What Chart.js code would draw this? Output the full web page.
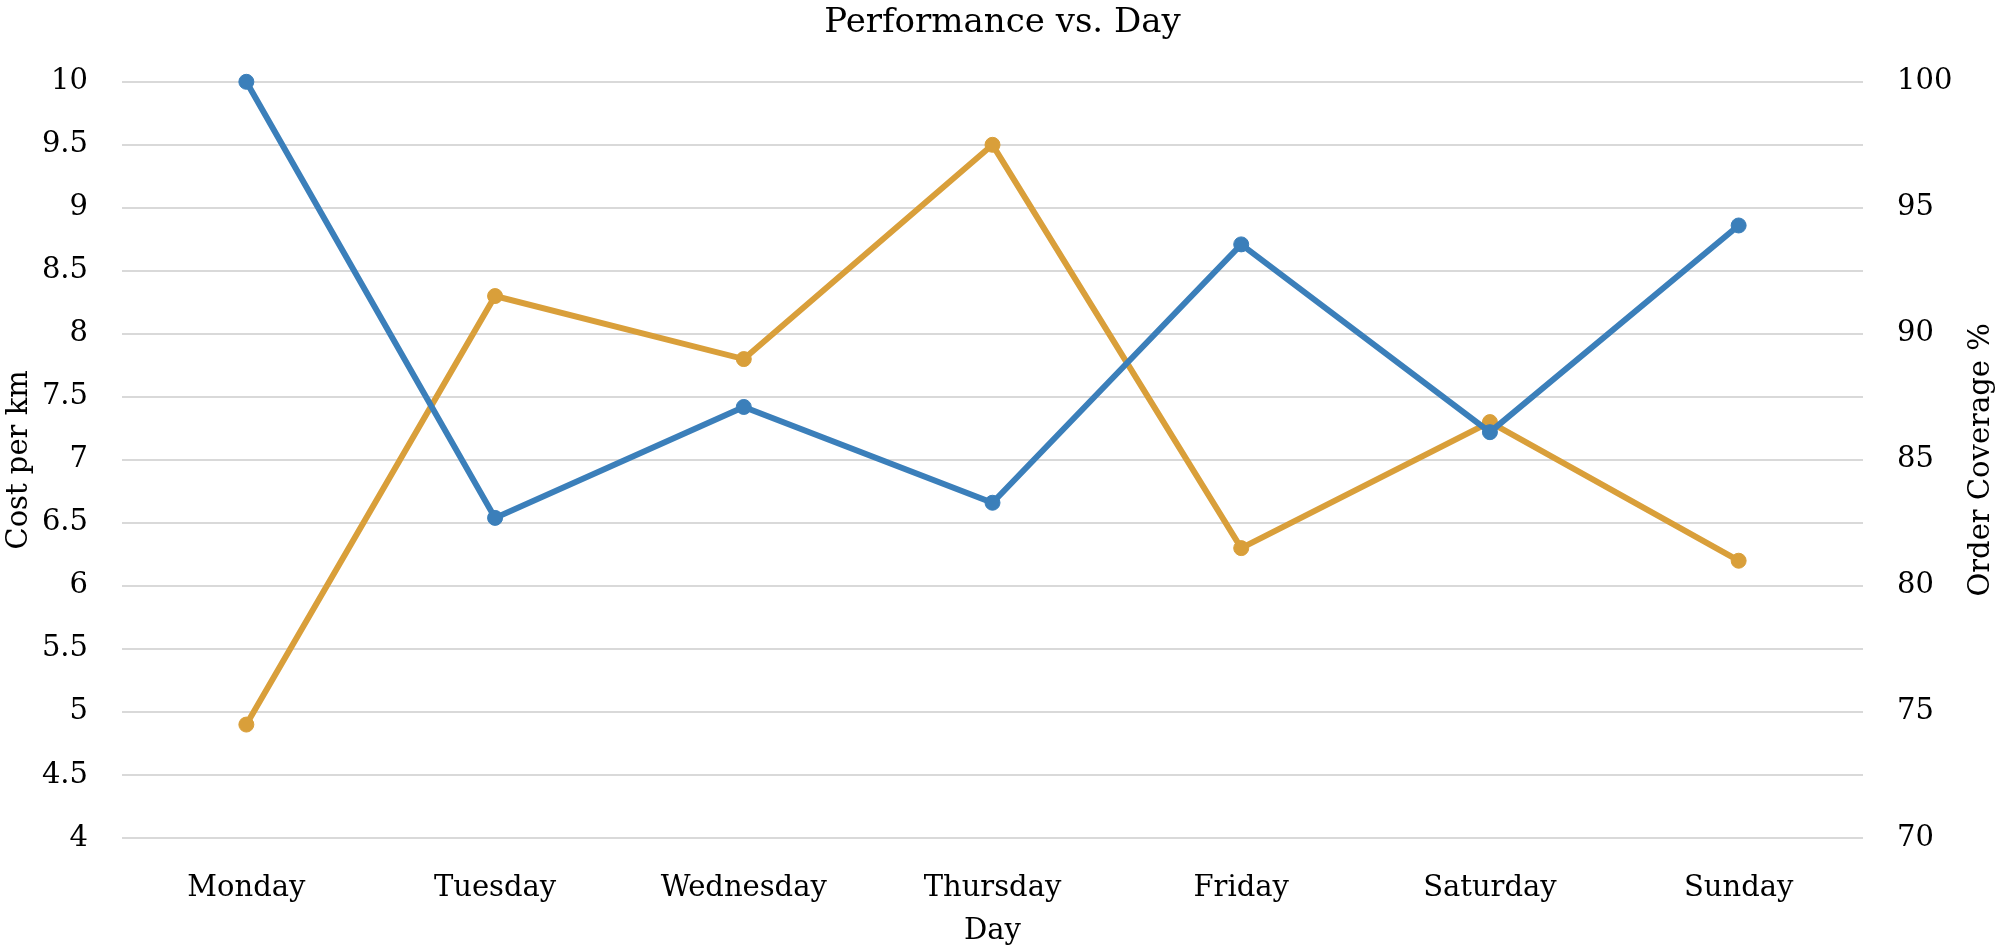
<!DOCTYPE html>
<html>
<head>
<meta charset="utf-8">
<title>Performance vs. Day</title>
<script src="https://cdn.jsdelivr.net/npm/chart.js@4.4.1/dist/chart.umd.min.js"></script>
<style>
    html, body { margin: 0; padding: 0; background: #fff; }
    canvas { display: block; }
</style>
</head>
<body>
<canvas id="perfChart" width="2005" height="947"></canvas>
<script>
// Categories and series
const days = ['Monday', 'Tuesday', 'Wednesday', 'Thursday', 'Friday', 'Saturday', 'Sunday'];
const costPerKm = [10, 6.54, 7.42, 6.66, 8.71, 7.22, 8.86];
const orderCoverage = [74.5, 91.5, 89, 97.5, 81.5, 86.5, 81];

// Tick labels for the two value axes
const costTicks = [4, 4.5, 5, 5.5, 6, 6.5, 7, 7.5, 8, 8.5, 9, 9.5, 10];
const coverageTicks = [70, 75, 80, 85, 90, 95, 100];

const FONT = '"DejaVu Serif", "Liberation Serif", serif';
const BLUE = '#3b7fba';
const ORANGE = '#d99f3a';

// Chart.js puts a right-hand title reading downwards; the reference reads upwards
const rightTitle = {
    id: 'rightTitle',
    afterDraw(chart) {
        const { ctx, chartArea } = chart;
        ctx.save();
        ctx.font = '29px ' + FONT;
        ctx.fillStyle = '#000';
        ctx.textAlign = 'center';
        ctx.textBaseline = 'middle';
        ctx.translate(chart.width - 24, (chartArea.top + chartArea.bottom) / 2);
        ctx.rotate(-Math.PI / 2);
        ctx.fillText('Order Coverage %', 0, 0);
        ctx.restore();
    }
};

function createChart() {
    const ctx = document.getElementById('perfChart').getContext('2d');

    new Chart(ctx, {
        type: 'line',
        data: {
            labels: days,
            datasets: [
                {
                    label: 'Cost per km',
                    data: costPerKm,
                    yAxisID: 'y',
                    borderColor: BLUE,
                    backgroundColor: BLUE,
                    borderWidth: 6,
                    pointRadius: 7.5,
                    pointBorderWidth: 1,
                    tension: 0,
                    clip: false
                },
                {
                    label: 'Order Coverage %',
                    data: orderCoverage,
                    yAxisID: 'y1',
                    borderColor: ORANGE,
                    backgroundColor: ORANGE,
                    borderWidth: 6,
                    pointRadius: 7.5,
                    pointBorderWidth: 1,
                    tension: 0,
                    clip: false
                }
            ]
        },
        options: {
            responsive: false,
            animation: false,
            layout: { padding: 0 },
            plugins: {
                legend: { display: false },
                tooltip: { enabled: false },
                title: {
                    display: true,
                    text: 'Performance vs. Day',
                    color: '#000',
                    font: { family: FONT, size: 34, weight: 'normal' },
                    padding: { top: 3, bottom: 38 }
                }
            },
            scales: {
                x: {
                    offset: true,
                    grid: { display: false },
                    border: { display: false },
                    ticks: {
                        color: '#000',
                        font: { family: FONT, size: 29 },
                        padding: 25,
                        maxRotation: 0
                    },
                    title: {
                        display: true,
                        text: 'Day',
                        color: '#000',
                        font: { family: FONT, size: 29 },
                        padding: { top: 0, bottom: -2 }
                    },
                    afterFit(scale) { scale.height = 109; }
                },
                y: {
                    position: 'left',
                    min: 4,
                    max: 10,
                    afterBuildTicks(scale) {
                        scale.ticks = costTicks.map(v => ({ value: v }));
                    },
                    grid: { color: '#d9d9d9', lineWidth: 2, drawTicks: false },
                    border: { display: false },
                    ticks: {
                        color: '#000',
                        font: { family: FONT, size: 29 },
                        padding: 34,
                        callback: value => String(value)
                    },
                    title: {
                        display: true,
                        text: 'Cost per km',
                        color: '#000',
                        font: { family: FONT, size: 29 },
                        padding: { top: 2, bottom: 0 }
                    },
                    afterFit(scale) { scale.width = 122; }
                },
                y1: {
                    position: 'right',
                    min: 70,
                    max: 100,
                    afterBuildTicks(scale) {
                        scale.ticks = coverageTicks.map(v => ({ value: v }));
                    },
                    grid: { drawOnChartArea: false, drawTicks: false },
                    border: { display: false },
                    ticks: {
                        color: '#000',
                        font: { family: FONT, size: 29 },
                        padding: 34,
                        callback: value => String(value)
                    },
                    afterFit(scale) { scale.width = 142; }
                }
            }
        },
        plugins: [rightTitle]
    });
}

createChart();
</script>
</body>
</html>
